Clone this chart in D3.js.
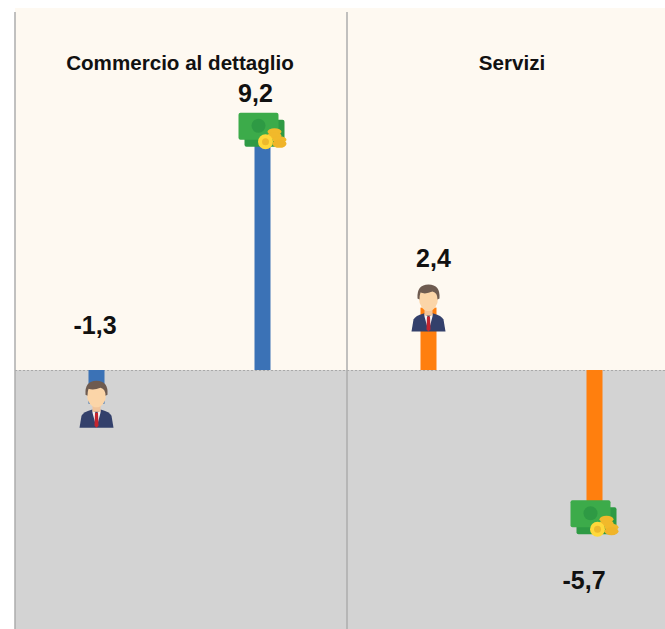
<!DOCTYPE html>
<html><head><meta charset="utf-8">
<script src="https://cdn.jsdelivr.net/npm/d3@7"></script>
<style>html,body{margin:0;padding:0;background:#fff}svg{display:block}text{font-family:"Liberation Sans",Arial,sans-serif;font-weight:700;fill:#111}</style>
</head><body><svg id="c" width="665" height="629"></svg>
<script>
const panels = ["Commercio al dettaglio", "Servizi"];
const seriesNames = ["Occupati", "Retribuzioni"];
const commercioValues = [-1.3, 9.2];
const serviziValues = [2.4, -5.7];
const panelColors = ["#3B72B6", "#FF7F0E"];
const valueLabels = [["-1,3", "9,2"], ["2,4", "-5,7"]];

const W = 665, H = 629;
const svg = d3.select("#c");
const y = d3.scaleLinear().domain([-10, 13.77]).range([630, 12]);
const fx = d3.scaleBand().domain(panels).range([15, 679]);
const x = d3.scaleBand().domain(seriesNames).range([-1.5, 330.5]).paddingInner(0.5).paddingOuter(0.25);
const y0 = y(0);

svg.append("rect").attr("x", 15).attr("y", 8).attr("width", W - 15).attr("height", y0 - 8).attr("fill", "#FEF9F1");
svg.append("rect").attr("x", 15).attr("y", y0).attr("width", W - 15).attr("height", H - y0).attr("fill", "#D3D3D3");
svg.append("line").attr("x1", 15).attr("x2", W).attr("y1", y0 + .5).attr("y2", y0 + .5)
  .attr("stroke", "#a9a9a9").attr("stroke-dasharray", "2 2");

function person(g) {
  g.append("path").attr("d", "M-17,24 L-15,12 Q-13,8 -5,6 L5,6 Q13,8 15,12 L17,24 Z").attr("fill", "#33406B");
  g.append("path").attr("d", "M-4,6 L0,10 L4,6 L4,9 L0,24 L-4,9 Z").attr("fill", "#F4F4F4");
  g.append("path").attr("d", "M-1.5,9 L1.5,9 L2,22 L0,24 L-2,22 Z").attr("fill", "#C4252F");
  g.append("rect").attr("x", -4).attr("y", 1).attr("width", 8).attr("height", 7).attr("fill", "#F2C49A");
  g.append("ellipse").attr("cx", 0).attr("cy", -9).attr("rx", 9.5).attr("ry", 12.5).attr("fill", "#FBD5A8");
  g.append("path").attr("d", "M-11,-9 Q-12,-23 0,-23 Q12,-23 11,-9 L9,-8 Q9,-15 4,-16 Q-3,-13 -8,-15 Q-9,-12 -9,-8 Z").attr("fill", "#6E5B50");
}
function money(g) {
  g.append("rect").attr("x", -18).attr("y", -11).attr("width", 40).attr("height", 27).attr("rx", 2).attr("fill", "#2E9A44");
  g.append("rect").attr("x", -24).attr("y", -18).attr("width", 40).attr("height", 27).attr("rx", 2).attr("fill", "#3CAB4A");
  g.append("circle").attr("cx", -4).attr("cy", -5).attr("r", 7).attr("fill", "#2E9A44");
  const coins = [[12, 1, 7, 3.5], [12, 5, 7, 3.5], [17, 9, 7, 3.5]];
  g.selectAll("ellipse.c").data(coins).join("ellipse").attr("class", "c")
    .attr("cx", d => d[0]).attr("cy", d => d[1]).attr("rx", d => d[2]).attr("ry", d => d[3]).attr("fill", "#F1B92B");
  g.append("ellipse").attr("cx", 17).attr("cy", 13).attr("rx", 7).attr("ry", 4).attr("fill", "#F0B429");
  g.append("circle").attr("cx", 3).attr("cy", 11).attr("r", 7.5).attr("fill", "#FFD83A");
  g.append("circle").attr("cx", 3).attr("cy", 11).attr("r", 3.5).attr("fill", "#EDB92C");
}

function labelDx(v, i) {
  if (i === 0) return v >= 0 ? 5 : -1.5;
  return v >= 0 ? -7 : -10.5;
}

[commercioValues, serviziValues].forEach((vals, p) => {
  const g = svg.append("g").attr("transform", `translate(${fx(panels[p])},0)`);
  g.append("line").attr("x1", 0).attr("x2", 0).attr("y1", 12).attr("y2", H)
    .attr("stroke", "#ACACAC").attr("stroke-width", 1.5);
  g.append("text").attr("x", p ? 165 : 165).attr("y", 70).attr("text-anchor", "middle")
    .attr("font-size", 20.6).text(panels[p]);
  vals.forEach((v, i) => {
    const cx = x(seriesNames[i]) + x.bandwidth() / 2;
    g.append("rect").attr("x", cx - 8).attr("width", 16)
      .attr("y", Math.min(y(v), y0)).attr("height", Math.abs(y(v) - y0)).attr("fill", panelColors[p]);
    const ic = g.append("g").attr("transform", `translate(${cx},${y(v)})`);
    (i === 0 ? person : money)(ic);
    const ly = v >= 0 ? (i === 0 ? y(v) - 41 : y(v) - 29)
      : (i === 0 ? y0 - 36 : y(v) + 71);
    g.append("text").attr("x", cx + labelDx(v, i)).attr("y", ly).attr("text-anchor", "middle")
      .attr("font-size", 25).text(valueLabels[p][i]);
  });
});
</script></body></html>
